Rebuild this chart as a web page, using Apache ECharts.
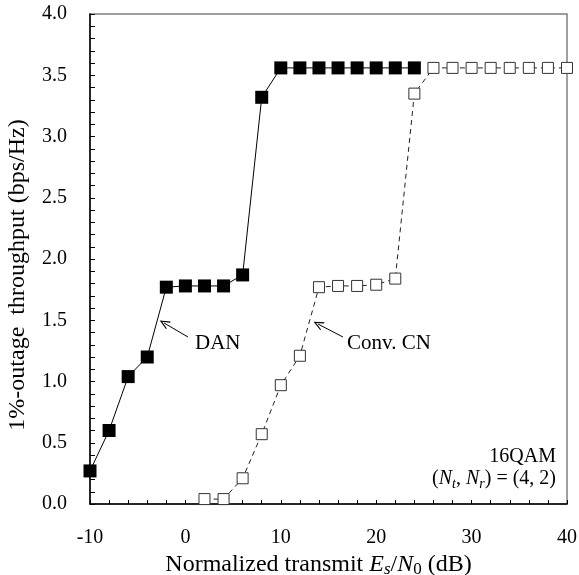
<!DOCTYPE html>
<html>
<head>
<meta charset="utf-8">
<script src="https://cdn.jsdelivr.net/npm/echarts@6/dist/echarts.min.js"></script>
<style>
  html, body { margin: 0; padding: 0; background: #fff; }
  #chart { width: 579px; height: 575px; }
</style>
</head>
<body>
<div id="chart"></div>
<script>
let chart = echarts.init(document.getElementById('chart'));

// x 轴: 归一化发射 Es/N0 (dB)
let dan_x = [-10, -8, -6, -4, -2, 0, 2, 4, 6, 8, 10, 12, 14, 16, 18, 20, 22, 24];
let dan_y = [0.27, 0.60, 1.04, 1.20, 1.77, 1.78, 1.78, 1.78, 1.87, 3.32, 3.56, 3.56, 3.56, 3.56, 3.56, 3.56, 3.56, 3.56];

let conv_x = [2, 4, 6, 8, 10, 12, 14, 16, 18, 20, 22, 24, 26, 28, 30, 32, 34, 36, 38, 40];
let conv_y = [0.04, 0.04, 0.21, 0.57, 0.97, 1.21, 1.77, 1.78, 1.78, 1.79, 1.84, 3.35, 3.56, 3.56, 3.56, 3.56, 3.56, 3.56, 3.56, 3.56];

// 箭头 (尾 -> 头), 数据坐标
let dan_arrow = [[0.27, 1.363], [-2.24, 1.478]];
let conv_arrow = [[16.52, 1.363], [13.90, 1.469]];

let font = '"Liberation Serif", "Times New Roman", serif';
let arrow_path = 'path://M0,10 L5,0 L10,10 L8.6,10 L5,2.8 L1.4,10 Z';

function zip(xs, ys) {
    return xs.map((x, i) => [x, ys[i]]);
}

function arrow_line(pts) {
    return {
        silent: true,
        symbol: ['none', arrow_path],
        symbolSize: [9, 10],
        lineStyle: {color: '#000', width: 1, type: 'solid'},
        label: {show: false},
        data: [[{coord: pts[0]}, {coord: pts[1]}]]
    };
}

let option = {
    animation: false,
    backgroundColor: '#fff',
    grid: {
        left: 90, right: 12, top: 14, bottom: 71,
        outerBoundsMode: 'none',
        containLabel: false,
        show: true,
        borderColor: '#808080',
        borderWidth: 1.5,
        backgroundColor: 'transparent'
    },
    xAxis: {
        type: 'value',
        min: -10, max: 40, interval: 10,
        axisLine: {onZero: false, lineStyle: {color: '#000', width: 1.5}},
        axisTick: {inside: true, length: 4, lineStyle: {color: '#000'}},
        minorTick: {show: true, splitNumber: 5, length: 4, lineStyle: {color: '#000'}},
        splitLine: {show: false},
        axisLabel: {margin: 24, fontFamily: font, fontSize: 20, color: '#000'},
        name: '{n|Normalized transmit }{i|E}{si|s}{n|/}{i|N}{s|0}{n| (dB)}',
        nameLocation: 'middle',
        nameGap: 46,
        nameTextStyle: {
            fontFamily: font, fontSize: 24, color: '#000', padding: [0, 20, 0, 0],
            rich: {
                n: {fontFamily: font, fontSize: 24, color: '#000', lineHeight: 26},
                i: {fontFamily: font, fontSize: 24, fontStyle: 'italic', color: '#000', lineHeight: 26},
                si: {fontFamily: font, fontSize: 17, fontStyle: 'italic', color: '#000', lineHeight: 17, verticalAlign: 'bottom'},
                s: {fontFamily: font, fontSize: 17, color: '#000', lineHeight: 17, verticalAlign: 'bottom'}
            }
        }
    },
    yAxis: {
        type: 'value',
        min: 0, max: 4, interval: 0.5,
        axisLine: {onZero: false, lineStyle: {color: '#000', width: 1.5}},
        axisTick: {inside: true, length: 5, lineStyle: {color: '#000'}},
        minorTick: {show: true, splitNumber: 5, length: 5, lineStyle: {color: '#000'}},
        splitLine: {show: false},
        axisLabel: {
            margin: 23, fontFamily: font, fontSize: 20, color: '#000',
            formatter: v => v.toFixed(1)
        }
    },
    series: [
        {
            name: 'DAN',
            type: 'line',
            data: zip(dan_x, dan_y),
            symbol: 'rect',
            symbolSize: 13,
            showAllSymbol: true,
            lineStyle: {color: '#000', width: 1},
            itemStyle: {color: '#000', borderColor: '#000', borderWidth: 0},
            z: 3,
            markLine: arrow_line(dan_arrow)
        },
        {
            name: 'Conv. CN',
            type: 'line',
            data: zip(conv_x, conv_y),
            symbol: 'rect',
            symbolSize: 11,
            showAllSymbol: true,
            lineStyle: {color: '#222', width: 1, type: [5, 4]},
            itemStyle: {color: '#fff', borderColor: '#333', borderWidth: 1},
            z: 2,
            markLine: arrow_line(conv_arrow)
        }
    ],
    graphic: [
        {
            type: 'text', left: 195, top: 333,
            style: {text: 'DAN', font: '21px ' + font, fill: '#000'}
        },
        {
            type: 'text', left: 347, top: 333,
            style: {text: 'Conv. CN', font: '21px ' + font, fill: '#000'}
        },
        {
            type: 'text', right: 23, top: 447,
            style: {text: '16QAM', font: '20px ' + font, fill: '#000', align: 'right'}
        },
        {
            type: 'text', right: 23, top: 469,
            style: {
                text: '{n|(}{i|N}{si|t}{n|, }{i|N}{si|r}{n|) = (4, 2)}',
                fill: '#000',
                rich: {
                    n: {fontFamily: font, fontSize: 20, lineHeight: 24},
                    i: {fontFamily: font, fontSize: 20, fontStyle: 'italic', lineHeight: 24},
                    si: {fontFamily: font, fontSize: 14, fontStyle: 'italic', lineHeight: 15, verticalAlign: 'bottom'}
                }
            }
        },
        {
            type: 'text',
            x: 6, y: 275,
            rotation: Math.PI / 2,
            style: {
                text: '1%-outage  throughput (bps/Hz)',
                font: '24px ' + font, fill: '#000',
                align: 'center', verticalAlign: 'top'
            }
        }
    ]
};

chart.setOption(option);
</script>
</body>
</html>
